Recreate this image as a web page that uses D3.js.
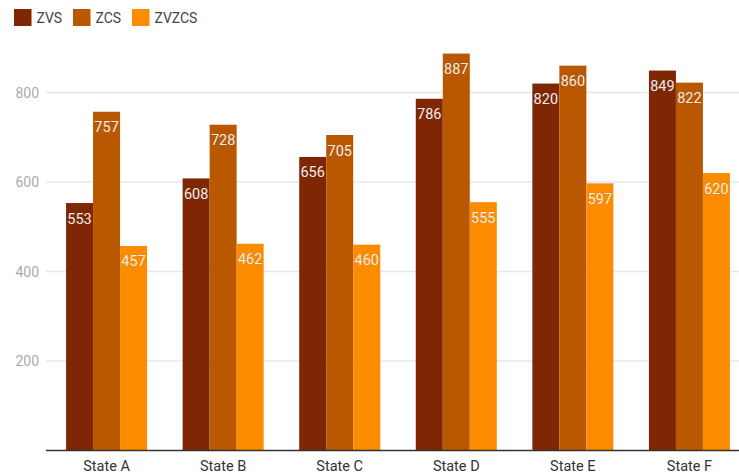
<!DOCTYPE html>
<html><head><meta charset="utf-8">
<script src="https://cdn.jsdelivr.net/npm/d3@7"></script>
<style>body{margin:0;background:#fff}svg{display:block;font-family:Roboto,"Noto Sans",sans-serif}</style>
</head><body><svg id="c" width="739" height="474"></svg>
<script>
const categories = ["State A","State B","State C","State D","State E","State F"];
const seriesNames = ["ZVS","ZCS","ZVZCS"];
const ZVS   = [553,608,656,786,820,849];
const ZCS   = [757,728,705,887,860,822];
const ZVZCS = [457,462,460,555,597,620];
const yTicks = [200,400,600,800];
const colors = ["#7f2704","#b95800","#fb8c00"];

const series = [ZVS, ZCS, ZVZCS];
const svg = d3.select("#c");
const W = 739;
const x0 = d3.scaleBand().domain(categories).range([46,750]).paddingInner(0.305).paddingOuter(0.172);
const x1 = d3.scaleBand().domain(seriesNames).range([0, x0.bandwidth()]);
const y = d3.scaleLinear().domain([0,800]).range([450.5,92.5]);

// gridlines
svg.append("g").selectAll("line").data(yTicks).join("line")
  .attr("x1",46).attr("x2",W).attr("y1",d=>y(d)).attr("y2",d=>y(d))
  .attr("stroke","#e8e8e8").attr("stroke-width",1.5);
svg.append("g").selectAll("text").data(yTicks).join("text")
  .attr("x",39).attr("y",d=>y(d)+5).attr("text-anchor","end")
  .attr("font-size",14).attr("fill","#aaa").text(d=>d);

// bars
const groups = svg.append("g").selectAll("g").data(categories).join("g")
  .attr("transform",c=>`translate(${x0(c)},0)`);
groups.each(function(c,i){
  const g = d3.select(this);
  seriesNames.forEach((s,j)=>{
    const v = series[j][i];
    g.append("rect").attr("x",x1(s)).attr("width",x1.bandwidth())
      .attr("y",y(v)).attr("height",y(0)-y(v)).attr("fill",colors[j]);
    g.append("text").attr("x",x1(s)+x1.bandwidth()/2).attr("y",y(v)+20.5)
      .attr("text-anchor","middle").attr("font-size",14.5).attr("fill","#fff")
      .attr("stroke","rgba(0,0,0,0.15)").attr("stroke-width",0.6).text(v);
  });
});

// baseline
svg.append("line").attr("x1",46).attr("x2",W).attr("y1",y(0)).attr("y2",y(0))
  .attr("stroke","#333").attr("stroke-width",1.5);

// category labels
svg.append("g").selectAll("text").data(categories).join("text")
  .attr("x",c=>x0(c)+x0.bandwidth()/2).attr("y",470.5).attr("text-anchor","middle")
  .attr("font-size",14.5).attr("fill","#333").text(c=>c);

// legend
const legX = [14,73,132];
const leg = svg.append("g").selectAll("g").data(seriesNames).join("g")
  .attr("transform",(d,i)=>`translate(${legX[i]},9)`);
leg.append("rect").attr("width",17.5).attr("height",17).attr("fill",(d,i)=>colors[i]);
leg.append("text").attr("x",22.5).attr("y",14.3).attr("font-size",14).attr("fill","#444").text(d=>d);
</script></body></html>
